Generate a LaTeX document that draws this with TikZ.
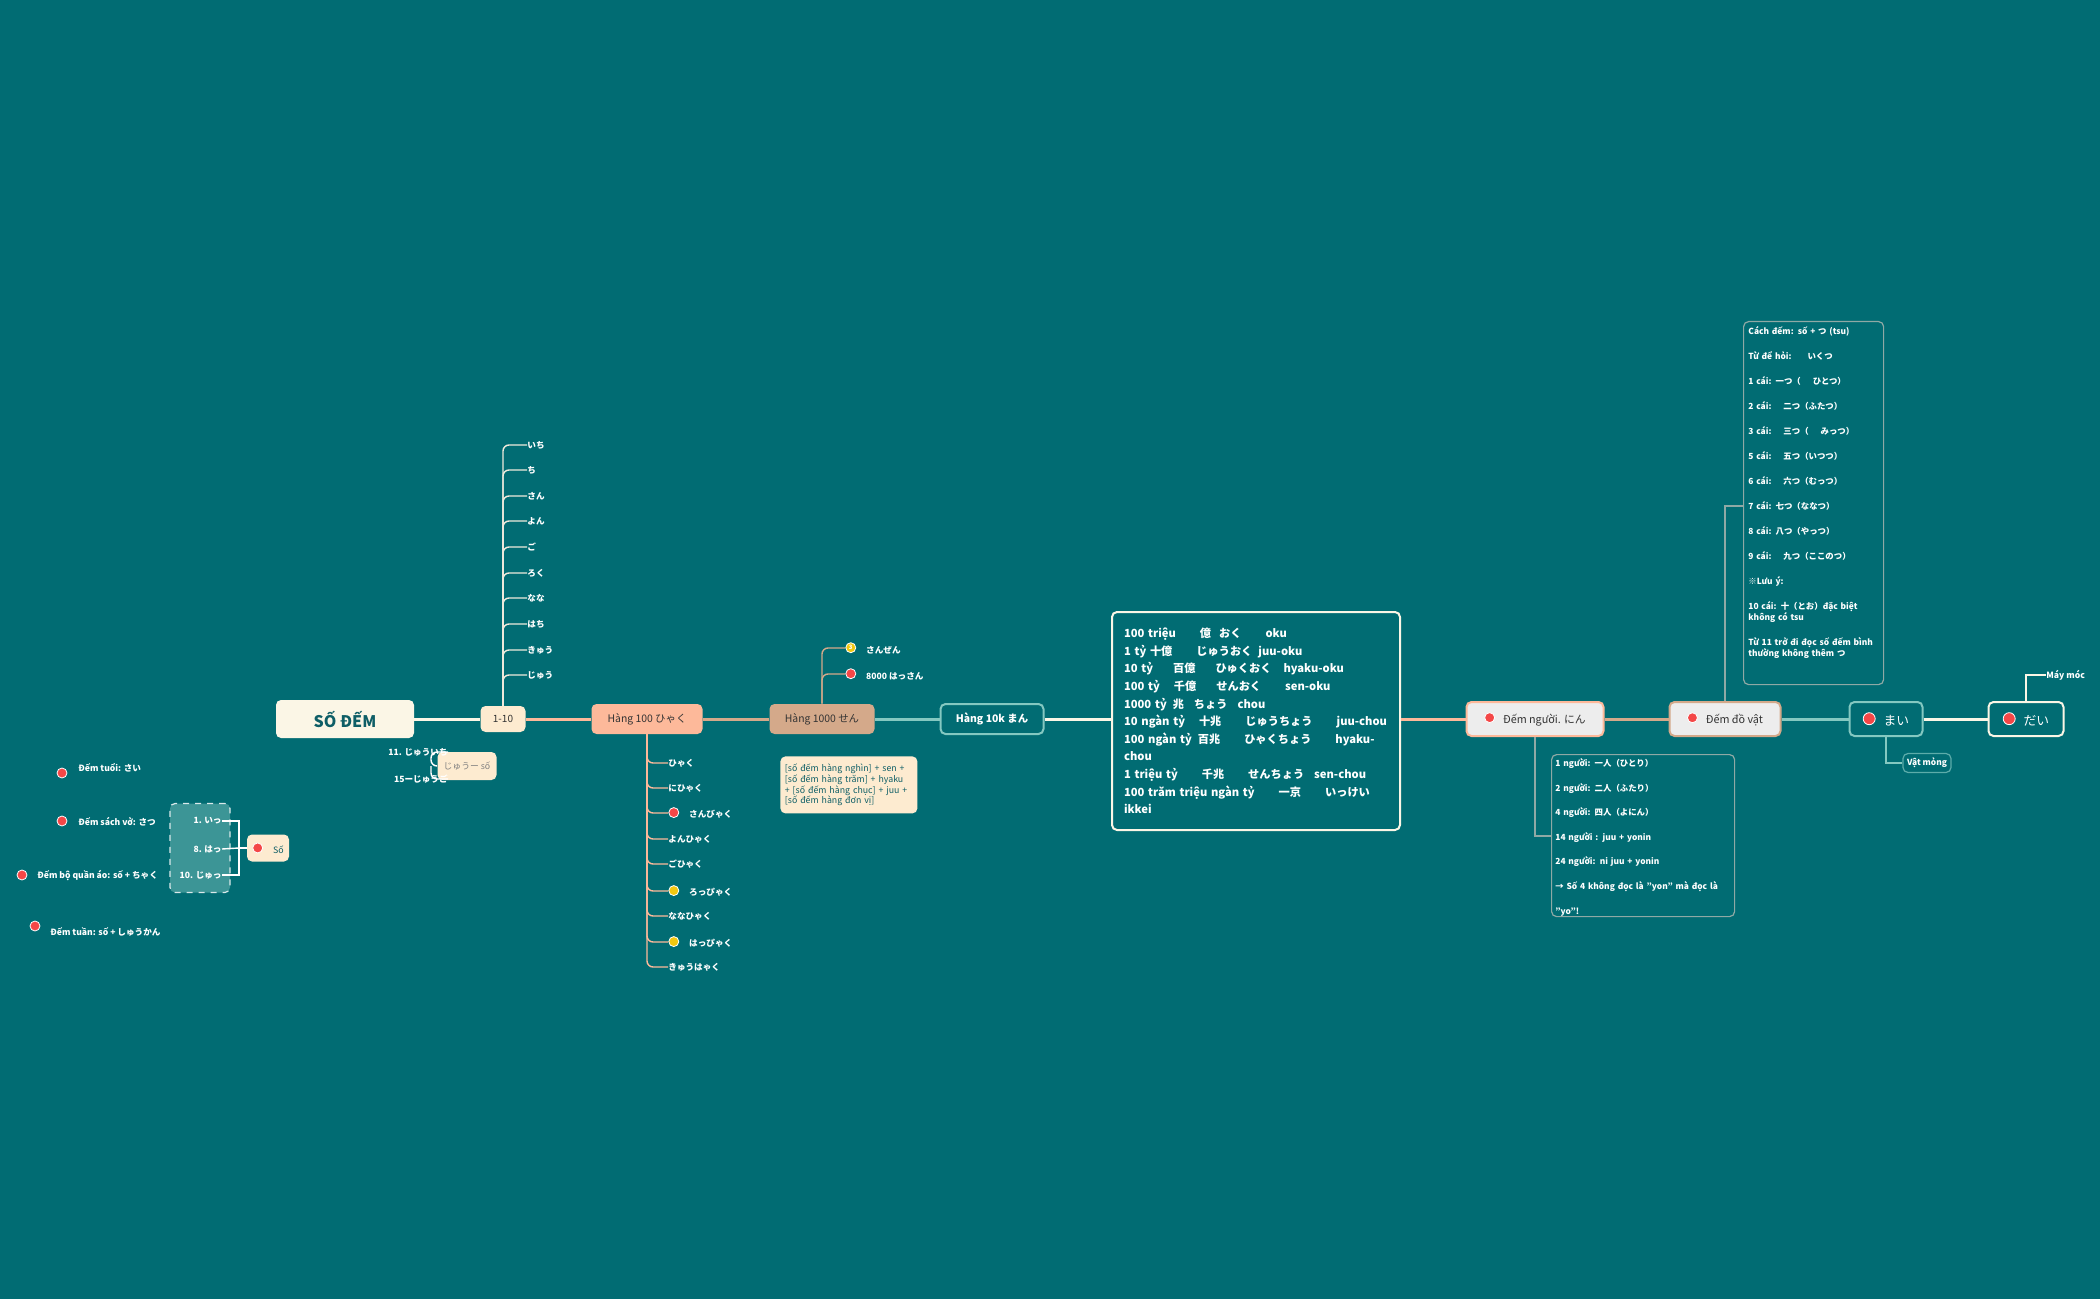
\documentclass[tikz,border=0pt]{standalone}
\usepackage{fontspec}
\setmainfont{Noto Sans CJK JP}
\usetikzlibrary{positioning}
\definecolor{bg}{HTML}{016C73}
\definecolor{cream}{HTML}{FBF6E6}
\definecolor{peach}{HTML}{FDEBD0}
\definecolor{salmon}{HTML}{FDB99A}
\definecolor{tan}{HTML}{D4A98A}
\definecolor{lteal}{HTML}{84C8C1}
\definecolor{dred}{HTML}{F44747}
\definecolor{dyel}{HTML}{F2C811}
\definecolor{txt}{HTML}{0E5E66}
\definecolor{gline}{HTML}{8FA9A5}
\tikzset{
 box/.style={rounded corners=2.5pt,inner sep=0pt,align=center},
 lbl/.style={anchor=west,inner sep=0pt,text=white,font=\fontsize{4.3}{5}\selectfont\bfseries},
 rlbl/.style={anchor=east,inner sep=0pt,text=white,font=\fontsize{4.3}{5}\selectfont\bfseries},
 rdot/.style={circle,fill=dred,draw=white,line width=0.4pt,inner sep=0pt,minimum size=5pt},
 ydot/.style={circle,fill=dyel,draw=white,line width=0.4pt,inner sep=0pt,minimum size=5pt},
 axis/.style={line width=1.5pt},
 br/.style={line width=0.7pt,rounded corners=3pt},
}
\begin{document}
\begin{tikzpicture}[x=0.5pt,y=-0.5pt]
\fill[bg] (0,0) rectangle (2100,1299);
\useasboundingbox (0,0) rectangle (2100,1299);
% main nodes
\node[box,fill=cream,minimum width=69pt,minimum height=19pt,text=txt,font=\fontsize{8}{9}\selectfont\bfseries] (root) at (345,719) {SỐ ĐẾM};
\node[box,fill=peach,minimum width=22.5pt,minimum height=13pt,text=black!80,font=\fontsize{5}{6}\selectfont] (one) at (503,719) {1-10};
\node[box,fill=salmon,minimum width=55.5pt,minimum height=15pt,text=black!80,font=\fontsize{5.2}{6}\selectfont] (h100) at (647,719) {Hàng 100 ひゃく};
\node[box,fill=tan,minimum width=52.5pt,minimum height=15pt,text=black!80,font=\fontsize{5.2}{6}\selectfont] (h1000) at (822,719) {Hàng 1000 せん};
\node[box,fill=bg,draw=lteal,line width=1pt,minimum width=51.5pt,minimum height=15pt,text=white,font=\fontsize{5.2}{6}\selectfont\bfseries] (h10k) at (992,719) {Hàng 10k まん};
\node[box,fill=bg,draw=cream,line width=1pt,minimum width=144pt,minimum height=109pt,text=white,anchor=north west,align=left,inner sep=6pt,text width=132pt,font=\fontsize{5.6}{8.8}\selectfont\bfseries] (big) at (1111,611) {%
100 triệu\hspace{12pt}億\hspace{4pt}おく\hspace{12pt}oku\\
1 tỷ 十億\hspace{12pt}じゅうおく\hspace{3pt}juu-oku\\
10 tỷ\hspace{10pt}百億\hspace{10pt}ひゅくおく\hspace{6pt}hyaku-oku\\
100 tỷ\hspace{7pt}千億\hspace{10pt}せんおく\hspace{12pt}sen-oku\\
1000 tỷ\hspace{3pt}兆\hspace{5pt}ちょう\hspace{5pt}chou\\
10 ngàn tỷ\hspace{7pt}十兆\hspace{12pt}じゅうちょう\hspace{12pt}juu-chou\\
100 ngàn tỷ\hspace{3pt}百兆\hspace{12pt}ひゃくちょう\hspace{12pt}hyaku-\\chou\\
1 triệu tỷ\hspace{12pt}千兆\hspace{12pt}せんちょう\hspace{5pt}sen-chou\\
100 trăm triệu ngàn tỷ\hspace{12pt}一京\hspace{12pt}いっけい\\ikkei};
\node[box,fill=black!7,draw=salmon,line width=1pt,minimum width=68.5pt,minimum height=17pt,text=black!80,font=\fontsize{5.4}{6}\selectfont] (nguoi) at (1535,719) {\tikz\node[rdot]{};\hspace{4pt}Đếm người. にん};
\node[box,fill=black!7,draw=tan,line width=1pt,minimum width=55.5pt,minimum height=17pt,text=black!80,font=\fontsize{5.4}{6}\selectfont] (dovat) at (1725,719) {\tikz\node[rdot]{};\hspace{4pt}Đếm đồ vật};
\node[box,fill=bg,draw=lteal,line width=1pt,minimum width=36.5pt,minimum height=17pt,text=white,font=\fontsize{6.4}{7}\selectfont] (mai) at (1886,719) {\tikz\node[rdot,minimum size=6pt]{};\hspace{4pt}まい};
\node[box,fill=bg,draw=cream,line width=1pt,minimum width=37.5pt,minimum height=17pt,text=white,font=\fontsize{6.4}{7}\selectfont] (dai) at (2026,719) {\tikz\node[rdot,minimum size=6pt]{};\hspace{4pt}だい};
% axis
\draw[axis,cream] (root.east) -- (one.west);
\draw[axis,salmon] (one.east) -- (h100.west);
\draw[axis,tan] (h100.east) -- (h1000.west);
\draw[axis,lteal] (h1000.east) -- (h10k.west);
\draw[axis,cream] (h10k.east) -- (big.west|-h10k.east);
\draw[axis,salmon] (big.east|-h10k.east) -- (nguoi.west);
\draw[axis,tan] (nguoi.east) -- (dovat.west);
\draw[axis,lteal] (dovat.east) -- (mai.west);
\draw[axis,cream] (mai.east) -- (dai.west);
% 1-10 children
\foreach \t/\y [count=\i] in {いち/445,ち/470,さん/496,よん/521,ご/547,ろく/573,なな/598,はち/624,きゅう/650,じゅう/675}{
  \node[lbl] (a\i) at (527,\y) {\t};
  \draw[br,cream!90!gray] (one.north) |- (a\i.west);
}
% 100 children
\foreach \t/\y/\d [count=\i] in {ひゃく/763/0,にひゃく/788/0,さんびゃく/813/1,よんひゃく/839/0,ごひゃく/864/0,ろっぴゃく/891/2,ななひゃく/916/0,はっぴゃく/942/2,きゅうはゃく/967/0}{
  \ifnum\d=0 \node[lbl] (b\i) at (668,\y) {\t};
  \else\ifnum\d=1 \node[lbl] (b\i) at (668,\y) {\tikz\node[rdot]{};\hspace{5pt}\t};
  \else \node[lbl] (b\i) at (668,\y) {\tikz\node[ydot]{};\hspace{5pt}\t};\fi\fi
  \draw[br,salmon] (h100.south) |- (b\i.west);
}
% 1000 children
\node[lbl] (c1) at (845,648) {\tikz\node[ydot,font=\fontsize{3}{3}\selectfont,text=white]{3};\hspace{5pt}さんぜん};
\node[lbl] (c2) at (845,674) {\tikz\node[rdot]{};\hspace{5pt}8000 はっさん};
\draw[br,tan] (h1000.north) |- (c1.west);
\draw[br,tan] (h1000.north) |- (c2.west);
\node[box,fill=peach,anchor=north west,minimum width=68.5pt,minimum height=28.5pt,text width=64pt,align=left,text=txt,font=\fontsize{4.4}{5.4}\selectfont] (note1) at (780,756) {[số đếm hàng nghìn] + sen + [số đếm hàng trăm] + hyaku + [số đếm hàng chục] + juu + [số đếm hàng đơn vị]};
% juu box
\node[box,fill=peach,minimum width=29.5pt,minimum height=14pt,text=gray,font=\fontsize{4.4}{5}\selectfont] (juu) at (467,766) {じゅうー số};
\node[rlbl] (j1) at (448,752) {11. じゅういち};
\node[rlbl] (j2) at (448,779) {15ーじゅうご};
\coordinate (jb) at (431,766);
\draw[br,white] (juu.west) -- (jb) |- (j1.east);
\draw[br,white] (jb) |- (j2.east);
% dashed group
\node[box,fill=lteal!45!bg,draw=white!85!bg,dashed,line width=0.6pt,minimum width=30pt,minimum height=44.5pt] (grp) at (200,848) {};
\node[box,fill=peach,minimum width=21pt,minimum height=13.5pt,text=txt,font=\fontsize{4.4}{5}\selectfont] (so) at (268,848) {\tikz\node[rdot]{};\hspace{5pt}Số};
\node[rlbl] (g1) at (222,821) {1. いっ};
\node[rlbl] (g2) at (222,849) {8. はっ};
\node[rlbl] (g3) at (222,875) {10. じゅっ};
\coordinate (gb) at (239,848);
\draw[line width=0.7pt,white] (so.west) -- (gb) |- (g1.east);
\draw[line width=0.7pt,white] (gb) |- (g3.east);
\draw[line width=0.7pt,white] (gb) -- (g2.east);
% loose bullets
\node[rdot] (d1) at (62,773) {}; \node[lbl] (t1) at (78,768) {Đếm tuổi: さい};
\node[rdot] (d2) at (62,821) {}; \node[lbl] (t2) at (78,822) {Đếm sách vở: さつ};
\node[rdot] (d3) at (22,875) {}; \node[lbl] (t3) at (37,876) {Đếm bộ quần áo: số +  ちゃく};
\node[rdot] (d4) at (35,926) {}; \node[lbl] (t4) at (50,932) {Đếm tuần: số + しゅうかん};
% do vat note
\node[box,draw=gline,line width=0.6pt,anchor=north west,minimum width=70pt,minimum height=181.5pt] (n2) at (1743,321) {};
\node[anchor=north west,inner sep=0pt,text width=64pt,align=left,text=white,font=\fontsize{4.2}{12.5}\selectfont\bfseries] (n2t) at (1748,326) {%
Cách đếm: số + つ (tsu)\\
Từ để hỏi:\hspace{8pt}いくつ\\
1 cái: 一つ（\hspace{6pt}ひとつ）\\
2 cái:\hspace{6pt}二つ（ふたつ）\\
3 cái:\hspace{6pt}三つ（\hspace{6pt}みっつ）\\
5 cái:\hspace{6pt}五つ（いつつ）\\
6 cái:\hspace{6pt}六つ（むっつ）\\
7 cái: 七つ（ななつ）\\
8 cái: 八つ（やっつ）\\
9 cái:\hspace{6pt}九つ（ここのつ）\\
※Lưu ý:\\
10 cái: 十（とお）đặc biệt\\[-7pt]
không có tsu\\
Từ 11 trở đi đọc số đếm bình\\[-7pt]
thường không thêm つ};
\coordinate (n2a) at (1743,506);
\draw[line width=0.7pt,gline] (dovat.north) |- (n2a);
% nguoi note
\node[box,draw=gline,line width=0.6pt,anchor=north west,minimum width=91.5pt,minimum height=81pt] (n3) at (1551,754) {};
\node[anchor=north west,inner sep=0pt,text width=88pt,align=left,text=white,font=\fontsize{4.2}{12.3}\selectfont\bfseries] (n3t) at (1555,758) {%
1 người: 一人（ひとり）\\
2 người: 二人（ふたり）\\
4 người: 四人（よにん）\\
14 người : juu + yonin\\
24 người: ni juu + yonin\\
→ Số 4 không đọc là "yon" mà đọc là "yo"!};
\coordinate (n3a) at (1551,836);
\draw[line width=0.7pt,gline] (nguoi.south) |- (n3a);
% vat mong / may moc
\node[box,fill=bg,draw=lteal!70!bg,line width=0.6pt,minimum width=24pt,minimum height=9.5pt,text=white,font=\fontsize{4.2}{5}\selectfont\bfseries] (vm) at (1927,763) {Vật mỏng};
\draw[line width=0.7pt,lteal] (mai.south) |- (vm.west);
\node[lbl] (mm) at (2046,675) {Máy móc};
\draw[line width=0.7pt,cream] (dai.north) |- (mm.west);
\end{tikzpicture}
\end{document}
